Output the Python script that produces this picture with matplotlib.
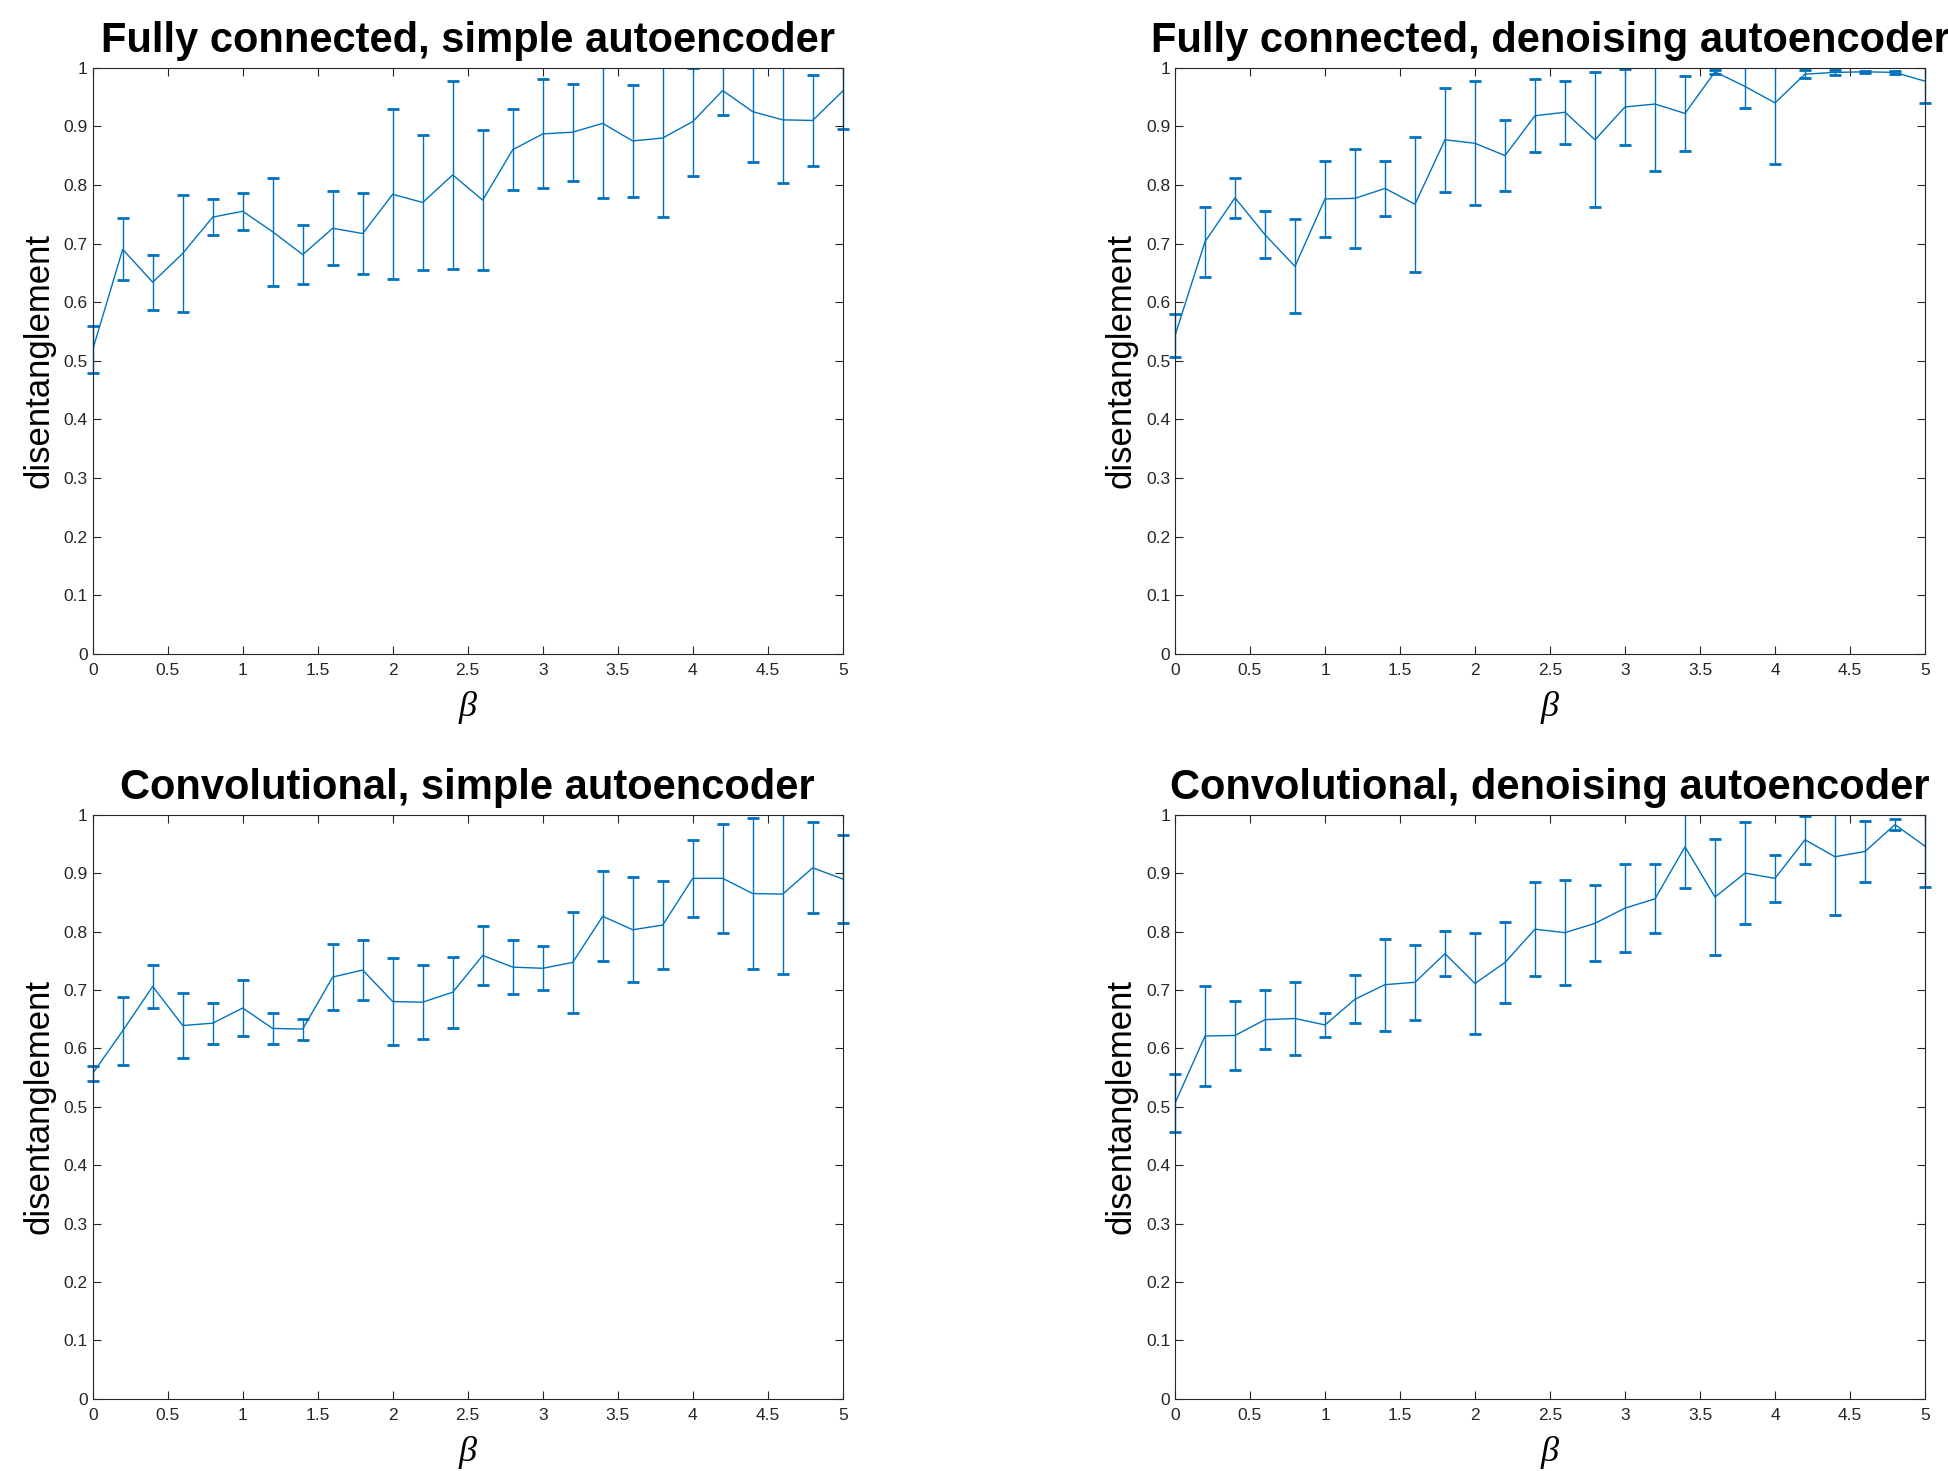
import numpy as np
import matplotlib
matplotlib.use("Agg")
import matplotlib.pyplot as plt
from matplotlib.transforms import Bbox, TransformedBbox

beta = np.round(np.arange(0, 5.01, 0.2), 1)

titles = ["Fully connected, simple autoencoder",
          "Fully connected, denoising autoencoder",
          "Convolutional, simple autoencoder",
          "Convolutional, denoising autoencoder"]

# mean disentanglement and error (half-height of the bars)
fc_simple = [0.519, 0.690, 0.634, 0.683, 0.745, 0.755, 0.720, 0.681, 0.726, 0.717,
             0.784, 0.770, 0.817, 0.774, 0.860, 0.887, 0.890, 0.905, 0.875, 0.880,
             0.908, 0.961, 0.925, 0.911, 0.910, 0.960]
fc_simple_err = [0.040, 0.053, 0.047, 0.100, 0.031, 0.032, 0.092, 0.050, 0.063, 0.069,
                 0.145, 0.115, 0.161, 0.120, 0.069, 0.093, 0.083, 0.127, 0.096, 0.134,
                 0.092, 0.042, 0.086, 0.107, 0.078, 0.064]

fc_denoise = [0.543, 0.703, 0.778, 0.715, 0.661, 0.776, 0.777, 0.794, 0.767, 0.877,
              0.871, 0.850, 0.918, 0.924, 0.877, 0.933, 0.938, 0.922, 0.993, 0.968,
              0.940, 0.989, 0.992, 0.993, 0.992, 0.977]
fc_denoise_err = [0.037, 0.060, 0.034, 0.040, 0.080, 0.065, 0.084, 0.047, 0.115, 0.089,
                  0.106, 0.060, 0.062, 0.054, 0.115, 0.065, 0.114, 0.064, 0.003, 0.036,
                  0.105, 0.007, 0.004, 0.002, 0.002, 0.038]

conv_simple = [0.557, 0.630, 0.706, 0.639, 0.643, 0.669, 0.634, 0.633, 0.722, 0.734,
               0.680, 0.679, 0.696, 0.759, 0.739, 0.737, 0.747, 0.826, 0.803, 0.811,
               0.891, 0.891, 0.865, 0.864, 0.909, 0.890]
conv_simple_err = [0.013, 0.058, 0.037, 0.055, 0.035, 0.048, 0.027, 0.018, 0.057, 0.051,
                   0.074, 0.063, 0.061, 0.051, 0.046, 0.038, 0.087, 0.077, 0.090, 0.076,
                   0.066, 0.093, 0.130, 0.137, 0.078, 0.076]

conv_denoise = [0.506, 0.621, 0.622, 0.649, 0.651, 0.640, 0.684, 0.709, 0.713, 0.762,
                0.711, 0.747, 0.804, 0.798, 0.814, 0.840, 0.856, 0.945, 0.859, 0.900,
                0.891, 0.957, 0.928, 0.937, 0.983, 0.946]
conv_denoise_err = [0.050, 0.086, 0.059, 0.050, 0.062, 0.021, 0.041, 0.079, 0.064, 0.039,
                    0.086, 0.070, 0.080, 0.090, 0.065, 0.075, 0.059, 0.070, 0.099, 0.088,
                    0.040, 0.041, 0.100, 0.052, 0.010, 0.070]

series = [(fc_simple, fc_simple_err), (fc_denoise, fc_denoise_err),
          (conv_simple, conv_simple_err), (conv_denoise, conv_denoise_err)]

matlab_blue = "#0072BD"
axis_gray = "#262626"

fig = plt.figure(figsize=(19.49, 14.71), dpi=100)

W, H = 1949.0, 1471.0
boxes = [(92.7, 67.7, 750, 586), (1175, 67.7, 750, 586),
         (92.7, 814.7, 750, 584), (1175, 814.7, 750, 584)]

for i, (px, py, pw, ph) in enumerate(boxes):
    ax = fig.add_axes([px / W, 1 - (py + ph) / H, pw / W, ph / H])
    mean, err = series[i]
    cont = ax.errorbar(beta, mean, yerr=err, color=matlab_blue, lw=1.0,
                       elinewidth=1.0, capsize=4.0, capthick=2.0)
    # let caps at the x edges stick out of the box like in MATLAB
    clip = TransformedBbox(Bbox([[-0.03, 0.0], [1.03, 1.0]]), ax.transAxes)
    for art in list(cont.lines[1]) + list(cont.lines[2]):
        art.set_clip_box(clip)

    ax.set_xlim(0, 5)
    ax.set_ylim(0, 1)
    ax.set_xticks(np.arange(0, 5.01, 0.5))
    ax.set_xticklabels(["0", "0.5", "1", "1.5", "2", "2.5", "3", "3.5", "4", "4.5", "5"])
    ax.set_yticks(np.arange(0, 1.01, 0.1))
    ax.set_yticklabels(["0", "0.1", "0.2", "0.3", "0.4", "0.5", "0.6", "0.7", "0.8", "0.9", "1"])
    ax.tick_params(direction="in", length=5.5, width=0.8, color=axis_gray,
                   top=True, right=True, labelsize=12.5, labelcolor=axis_gray)
    ax.tick_params(axis="x", pad=7)
    for lab in ax.get_xticklabels():
        lab.set_family(["Liberation Sans Narrow", "Liberation Sans"])
    for lab in ax.get_yticklabels():
        lab.set_family("Liberation Sans")
    for s in ax.spines.values():
        s.set_color(axis_gray)
        s.set_linewidth(0.8)

    ax.set_title(titles[i], fontsize=30, fontweight="bold", family="Liberation Sans", pad=11)
    ax.set_ylabel("disentanglement", fontsize=25, family="Liberation Sans", labelpad=6)
    ax.set_xlabel("β", fontsize=26, family="Liberation Serif", style="italic", labelpad=9)

fig.savefig("out.png", dpi=100, facecolor="white")
